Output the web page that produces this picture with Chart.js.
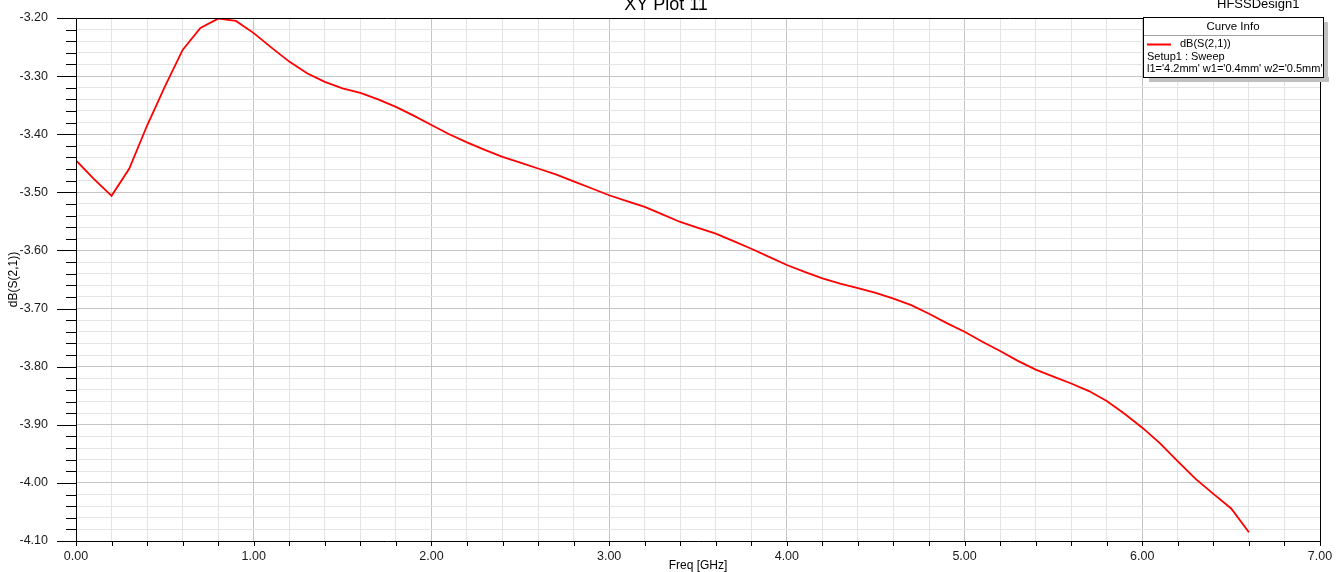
<!DOCTYPE html>
<html>
<head>
<meta charset="utf-8">
<title>XY Plot 11</title>
<script src="https://cdn.jsdelivr.net/npm/chart.js@4.4.0/dist/chart.umd.min.js"></script>
<style>
    html, body { margin: 0; padding: 0; background: #fff; }
    #wrap { position: relative; width: 1343px; height: 572px; }
</style>
</head>
<body>
<div id="wrap"><canvas id="plotChart"></canvas></div>
<script>
// Freq [GHz]
const freqs = [0.0, 0.1, 0.2, 0.3, 0.4, 0.5, 0.6, 0.7, 0.8, 0.9,
    1.0, 1.1, 1.2, 1.3, 1.4, 1.5, 1.6, 1.7, 1.8, 1.9,
    2.0, 2.1, 2.2, 2.3, 2.4, 2.5, 2.6, 2.7, 2.8, 2.9,
    3.0, 3.1, 3.2, 3.3, 3.4, 3.5, 3.6, 3.7, 3.8, 3.9,
    4.0, 4.1, 4.2, 4.3, 4.4, 4.5, 4.6, 4.7, 4.8, 4.9,
    5.0, 5.1, 5.2, 5.3, 5.4, 5.5, 5.6, 5.7, 5.8, 5.9,
    6.0, 6.1, 6.2, 6.3, 6.4, 6.5, 6.6];

// dB(S(2,1))
const s21 = [-3.445, -3.477, -3.506, -3.459, -3.385, -3.318, -3.255, -3.217, -3.201, -3.205,
    -3.226, -3.251, -3.275, -3.295, -3.310, -3.321, -3.329, -3.340, -3.353, -3.368,
    -3.384, -3.400, -3.414, -3.427, -3.439, -3.449, -3.459, -3.469, -3.481, -3.493,
    -3.505, -3.515, -3.525, -3.538, -3.551, -3.561, -3.571, -3.584, -3.597, -3.611,
    -3.625, -3.637, -3.648, -3.657, -3.665, -3.673, -3.683, -3.694, -3.709, -3.725,
    -3.740, -3.757, -3.773, -3.790, -3.805, -3.817, -3.829, -3.842, -3.859, -3.881,
    -3.905, -3.932, -3.963, -3.993, -4.019, -4.044, -4.085];

const seriesName = 'dB(S(2,1))';
const sweepName = 'Setup1 : Sweep';
const paramText = "l1='4.2mm' w1='0.4mm' w2='0.5mm'";
const plotTitle = 'XY Plot 11';
const designName = 'HFSSDesign1';

const FONT = "'Liberation Sans', Arial, sans-serif";
Chart.defaults.font.family = FONT;

function isMajor(v, unit) {
    const r = v / unit;
    return Math.abs(r - Math.round(r)) < 1e-6;
}

// frame, tick marks, title and curve info box
const hfssDecor = {
    id: 'hfssDecor',
    afterDraw(chart) {
        const ctx = chart.ctx;
        const a = chart.chartArea;
        const xs = chart.scales.x;
        const ys = chart.scales.y;
        ctx.save();
        ctx.strokeStyle = '#000';
        ctx.lineWidth = 1;

        // frame
        ctx.beginPath();
        ctx.rect(Math.round(a.left) + 0.5, Math.round(a.top) + 0.5,
            Math.round(a.right - a.left), Math.round(a.bottom - a.top));
        ctx.stroke();

        // y ticks
        ctx.beginPath();
        ys.ticks.forEach(t => {
            const y = Math.round(ys.getPixelForValue(t.value)) + 0.5;
            const len = isMajor(t.value, 0.1) ? 19 : 10;
            ctx.moveTo(a.left, y);
            ctx.lineTo(a.left - len, y);
        });
        // x ticks
        xs.ticks.forEach(t => {
            const x = Math.round(xs.getPixelForValue(t.value)) + 0.5;
            ctx.moveTo(x, a.bottom);
            ctx.lineTo(x, a.bottom + 5);
        });
        ctx.stroke();

        // titles
        ctx.fillStyle = '#000';
        ctx.textBaseline = 'alphabetic';
        ctx.textAlign = 'center';
        ctx.font = '18px ' + FONT;
        ctx.fillText(plotTitle, 666, 10);
        ctx.textAlign = 'left';
        ctx.font = '13px ' + FONT;
        ctx.fillText(designName, 1217, 8);

        // curve info box
        const bx = 1143, by = 17, bw = 180, bh = 60;
        ctx.fillStyle = '#c0c0c0';
        ctx.fillRect(bx + 6, by + bh, bw, 5);
        ctx.fillRect(bx + bw, by + 5, 5, bh);
        ctx.fillStyle = '#fff';
        ctx.fillRect(bx, by, bw, bh);
        ctx.strokeStyle = '#000';
        ctx.strokeRect(bx + 0.5, by + 0.5, bw, bh);
        ctx.strokeStyle = '#a0a0a0';
        ctx.beginPath();
        ctx.moveTo(bx + 1, by + 18.5);
        ctx.lineTo(bx + bw, by + 18.5);
        ctx.stroke();

        ctx.fillStyle = '#000';
        ctx.textBaseline = 'middle';
        ctx.font = '11.5px ' + FONT;
        ctx.textAlign = 'center';
        ctx.fillText('Curve Info', bx + bw / 2, by + 10);
        ctx.textAlign = 'left';
        const ds = chart.data.datasets[0];
        ctx.strokeStyle = ds.borderColor;
        ctx.lineWidth = 2;
        ctx.beginPath();
        ctx.moveTo(bx + 4, by + 27.5);
        ctx.lineTo(bx + 28, by + 27.5);
        ctx.stroke();
        ctx.font = '11px ' + FONT;
        ctx.fillText(ds.label, bx + 37, by + 27);
        ctx.fillText(sweepName, bx + 4, by + 40);
        ctx.fillText(paramText, bx + 4, by + 52);
        ctx.restore();
    }
};

new Chart(document.getElementById('plotChart'), {
    type: 'line',
    data: {
        datasets: [{
            label: seriesName,
            data: freqs.map((f, i) => ({ x: f, y: s21[i] })),
            borderColor: '#ff0000',
            borderWidth: 1.8,
            pointRadius: 0,
            tension: 0,
            fill: false
        }]
    },
    options: {
        responsive: true,
        maintainAspectRatio: false,
        animation: false,
        layout: { padding: { top: 18, right: 23, left: 0, bottom: 0 } },
        plugins: {
            legend: { display: false },
            tooltip: { enabled: false }
        },
        scales: {
            x: {
                type: 'linear',
                min: 0,
                max: 7,
                border: { display: false },
                grid: {
                    drawTicks: false,
                    color: c => isMajor(c.tick.value, 1) ? '#c4c4c4' : '#e4e4e4'
                },
                ticks: {
                    stepSize: 0.2,
                    autoSkip: false,
                    maxRotation: 0,
                    padding: 8,
                    color: '#1a1a1a',
                    font: { size: 12.5 },
                    callback: v => isMajor(v, 1) ? v.toFixed(2) : ''
                },
                title: {
                    display: true,
                    text: 'Freq [GHz]',
                    color: '#000',
                    font: { size: 12, lineHeight: 1 },
                    padding: { top: 0, bottom: 0 }
                },
                afterFit: s => {
                    s.height = 31;
                    s.paddingLeft = 0;
                    s.paddingRight = 0;
                }
            },
            y: {
                min: -4.1,
                max: -3.2,
                border: { display: false },
                grid: {
                    drawTicks: false,
                    color: c => isMajor(c.tick.value, 0.1) ? '#c4c4c4' : '#e4e4e4'
                },
                ticks: {
                    stepSize: 0.02,
                    maxTicksLimit: 1000,
                    autoSkip: false,
                    padding: 28,
                    color: '#1a1a1a',
                    font: { size: 12.5 },
                    callback: v => isMajor(v, 0.1) ? v.toFixed(2) : ''
                },
                title: {
                    display: true,
                    text: 'dB(S(2,1))',
                    color: '#000',
                    font: { size: 12, lineHeight: 1 },
                    padding: { top: 8, bottom: 0 }
                },
                afterFit: s => {
                    s.width = 76;
                    s.paddingTop = 0;
                    s.paddingBottom = 0;
                }
            }
        }
    },
    plugins: [hfssDecor]
});
</script>
</body>
</html>
